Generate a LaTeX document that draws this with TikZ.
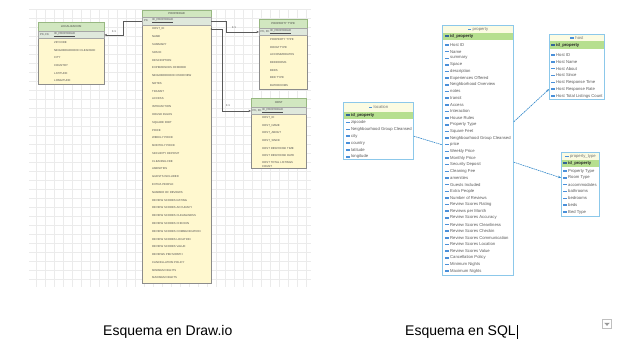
\documentclass[tikz,border=0pt]{standalone}
\usepackage{fontspec}
\setmainfont{Liberation Sans}
\usetikzlibrary{arrows.meta,positioning}

\definecolor{dioYellow}{HTML}{FFF8CF}
\definecolor{dioGreen}{HTML}{D1E7C0}
\definecolor{dioGreenLine}{HTML}{98B882}
\definecolor{dioKeyRow}{HTML}{DFE8DC}
\definecolor{sqlBorder}{HTML}{8CC8EA}
\definecolor{sqlHeadFill}{HTML}{FBFBE2}
\definecolor{sqlKeyFill}{HTML}{B6DF8F}
\definecolor{sqlIcon}{HTML}{4A90D9}
\definecolor{sqlLine}{HTML}{2F86C9}

\newcommand{\diofont}{\fontsize{2.8}{3.2}\selectfont}
\newcommand{\sqlfont}{\fontsize{4.2}{5}\selectfont}

\begin{document}
\begin{tikzpicture}[x=1pt,y=-1pt,
    diogrid/.style={draw=black!8,line width=0.3pt,step=9pt},
    diobox/.style={draw=black!45,fill=dioYellow,anchor=north west,inner sep=0pt},
    diohead/.style={draw=dioGreenLine,fill=dioGreen,anchor=north west,inner sep=0pt,font=\diofont,text=black!75},
    diokey/.style={draw=black!35,fill=dioKeyRow,anchor=north west,inner sep=0pt},
    diotext/.style={anchor=west,inner sep=0pt,font=\diofont,text=black!70},
    diolink/.style={draw=black!65,line width=0.5pt,-{Stealth[length=2.6pt,width=2.2pt]}},
    diolabel/.style={inner sep=0pt,font=\diofont,text=black!75},
    sqlbox/.style={draw=sqlBorder,line width=0.8pt,fill=white,anchor=north west,inner sep=0pt},
    sqlhead/.style={draw=sqlBorder,line width=0.8pt,fill=sqlHeadFill,anchor=north west,inner sep=0pt},
    sqlkey/.style={fill=sqlKeyFill,anchor=north west,inner sep=0pt},
    sqltitle/.style={inner sep=0pt,font=\sqlfont,text=black!55},
    sqltext/.style={anchor=west,inner sep=0pt,font=\sqlfont,text=black!65},
    sqlkeytext/.style={anchor=west,inner sep=0pt,font=\sqlfont\bfseries,text=black!85},
    sqlico/.style={fill=sqlIcon,minimum width=3.6pt,minimum height=1.5pt,inner sep=0pt},
    sqlkeyico/.style={fill=sqlIcon!70!black,minimum width=3.6pt,minimum height=2pt,inner sep=0pt},
    sqllink/.style={draw=sqlLine,line width=0.6pt,dash pattern=on 1.6pt off 0.7pt},
    caption/.style={anchor=base west,inner sep=0pt,font=\fontsize{14}{17}\selectfont}
  ]
  \useasboundingbox (0,0) rectangle (627,347);
  \fill[white] (0,0) rectangle (627,347);

  % draw.io canvas
  \draw[diogrid] (29,9) grid (311,287);

  % LOCALIZACION
  \node[diobox,minimum width=66,minimum height=62] (locbox) at (38,22) {};
  \node[diohead,minimum width=66,minimum height=9] (lochead) at (38,22) {LOCALIZACION};
  \node[diokey,minimum width=66,minimum height=7.5] (lockey) at (38,31) {};
  \node[diotext] (lockeypk) at (40,34.75) {PK, FK};
  \node[diotext] (lockeyid) at (54,34.75) {\underline{ID\_PROPIEDAD}};
  \foreach \f [count=\i] in {ZIPCODE, NEIGHBOURHOOD CLEANSED, CITY, COUNTRY, LATITUDE, LONGITUDE}
    \node[diotext] (locrow\i) at (54,34.75+7.7*\i) {\f};

  % PROPIEDAD
  \node[diobox,minimum width=69,minimum height=273] (mainbox) at (142,10) {};
  \node[diohead,minimum width=69,minimum height=7] (mainhead) at (142,10) {PROPIEDAD};
  \node[diokey,minimum width=69,minimum height=8] (mainkey) at (142,17) {};
  \node[diotext] (mainkeypk) at (144,21) {PK};
  \node[diotext] (mainkeyid) at (152,21) {\underline{ID\_PROPIEDAD}};
  \foreach \f [count=\i] in {HOST\_ID, NAME, SUMMARY, SPACE, DESCRIPTION, EXPERIENCES OFFERED,
      NEIGHBORHOOD OVERVIEW, NOTES, TRANSIT, ACCESS, INTERACTION, HOUSE RULES, SQUARE FEET,
      PRICE, WEEKLY PRICE, MONTHLY PRICE, SECURITY DEPOSIT, CLEANING FEE, AMENITIES,
      GUESTS INCLUDED, EXTRA PEOPLE, NUMBER OF REVIEWS, REVIEW SCORES RATING,
      REVIEW SCORES ACCURACY, REVIEW SCORES CLEANLINESS, REVIEW SCORES CHECKIN,
      REVIEW SCORES COMMUNICATION, REVIEW SCORES LOCATION, REVIEW SCORES VALUE,
      REVIEWS PER MONTH, CANCELLATION POLICY, MINIMUM NIGHTS, MAXIMUM NIGHTS}
    \node[diotext] (mainrow\i) at (152,21.2+7.78*\i) {\f};

  % PROPERTY TYPE
  \node[diobox,minimum width=48,minimum height=70] (ptbox) at (259,19) {};
  \node[diohead,minimum width=48,minimum height=9] (pthead) at (259,19) {PROPERTY TYPE};
  \node[diokey,minimum width=48,minimum height=7.5] (ptkey) at (259,28) {};
  \node[diotext] (ptkeypk) at (260.5,31.75) {PK, FK};
  \node[diotext] (ptkeyid) at (270,31.75) {\underline{ID\_PROPIEDAD}};
  \foreach \f [count=\i] in {PROPERTY TYPE, ROOM TYPE, ACCOMMODATES, BEDROOMS, BEDS, BED TYPE, BATHROOMS}
    \node[diotext] (ptrow\i) at (270,31.75+7.7*\i) {\f};

  % HOST
  \node[diobox,minimum width=55,minimum height=70] (hostbox) at (251,98) {};
  \node[diohead,minimum width=55,minimum height=9] (hosthead) at (251,98) {HOST};
  \node[diokey,minimum width=55,minimum height=7.5] (hostkey) at (251,107) {};
  \node[diotext] (hostkeypk) at (252.5,110.75) {PK, FK};
  \node[diotext] (hostkeyid) at (262,110.75) {\underline{ID\_PROPIEDAD}};
  \foreach \f [count=\i] in {HOST\_ID, HOST\_NAME, HOST\_ABOUT, HOST\_SINCE, HOST RESPONSE TIME, HOST RESPONSE RATE}
    \node[diotext] (hostrow\i) at (262,110.75+7.5*\i) {\f};
  \node[diotext,align=left] (hostrow7) at (262,164.5) {HOST TOTAL LISTINGS\\COUNT};

  % relaciones 1:1
  \draw[diolink] (mainkey.west) -- ++(-19,0) |- (lockey.east);
  \node[diolabel] (rel1) at (114,31.5) {1:1};
  \draw[diolink] (mainkey.east) -- ++(15,0) |- (ptkey.west);
  \node[diolabel] (rel2) at (234,28) {1:1};
  \fill[black!65] (mainbox.east |- mainrow1) circle (0.8);
  \draw[diolink] (mainbox.east |- mainrow1) -- ++(11,0) |- (hostkey.west);
  \node[diolabel] (rel3) at (228,106) {1:1};

  % SQL: location
  \node[sqlbox,minimum width=70,minimum height=57] (sqlloc) at (343,102) {};
  \node[sqlhead,minimum width=70,minimum height=10] (sqllochead) at (343,102) {};
  \node[sqltitle] (sqlloctitle) at ([xshift=2.5pt]sqllochead.center) {location};
  \node[sqlico,left=1pt of sqlloctitle] (sqllocico) {};
  \node[sqlkey,minimum width=69.2,minimum height=7] (sqllockey) at (343.4,112) {};
  \node[sqlkeytext] (sqllocid) at (351,115.5) {id\_property};
  \node[sqlkeyico,left=1pt of sqllocid] (sqllocidico) {};
  \foreach \f [count=\i] in {zipcode, Neighbourhood Group Cleansed, city, country, latitude, longitude} {
    \node[sqltext] (sqllocrow\i) at (351,115.5+6.9*\i) {\f};
    \node[sqlico,left=1pt of sqllocrow\i] (sqllocico\i) {};
  }

  % SQL: property
  \node[sqlbox,minimum width=71,minimum height=250] (sqlprop) at (442,25) {};
  \node[sqlhead,minimum width=71,minimum height=8] (sqlprophead) at (442,25) {};
  \node[sqltitle] (sqlproptitle) at ([xshift=2.5pt]sqlprophead.center) {property};
  \node[sqlico,left=1pt of sqlproptitle] (sqlpropico) {};
  \node[sqlkey,minimum width=70.2,minimum height=7] (sqlpropkey) at (442.4,33) {};
  \node[sqlkeytext] (sqlpropid) at (450,36.5) {id\_property};
  \node[sqlkeyico,left=1pt of sqlpropid] (sqlpropidico) {};
  \foreach \f [count=\i] in {Host ID, Name, summary, Space, description, Experiences Offered,
      Neighborhood Overview, notes, transit, Access, Interaction, House Rules, Property Type,
      Square Feet, Neighbourhood Group Cleansed, price, Weekly Price, Monthly Price,
      Security Deposit, Cleaning Fee, amenities, Guests Included, Extra People,
      Number of Reviews, Review Scores Rating, Reviews per Month, Review Scores Accuracy,
      Review Scores Cleanliness, Review Scores Checkin, Review Scores Communication,
      Review Scores Location, Review Scores Value, Cancellation Policy, Minimum Nights,
      Maximum Nights} {
    \node[sqltext] (sqlproprow\i) at (450,38.35+6.65*\i) {\f};
    \node[sqlico,left=1pt of sqlproprow\i] (sqlpropico\i) {};
  }

  % SQL: host
  \node[sqlbox,minimum width=55,minimum height=65] (sqlhost) at (549,34) {};
  \node[sqlhead,minimum width=55,minimum height=7] (sqlhosthead) at (549,34) {};
  \node[sqltitle] (sqlhosttitle) at ([xshift=2.5pt]sqlhosthead.center) {host};
  \node[sqlico,left=1pt of sqlhosttitle] (sqlhostico) {};
  \node[sqlkey,minimum width=54.2,minimum height=8] (sqlhostkey) at (549.4,41) {};
  \node[sqlkeytext] (sqlhostid) at (556,45) {id\_property};
  \node[sqlkeyico,left=1pt of sqlhostid] (sqlhostidico) {};
  \foreach \f [count=\i] in {Host ID, Host Name, Host About, Host Since, Host Response Time,
      Host Response Rate, Host Total Listings Count} {
    \node[sqltext] (sqlhostrow\i) at (556,48.17+6.83*\i) {\f};
    \node[sqlico,left=1pt of sqlhostrow\i] (sqlhostico\i) {};
  }

  % SQL: property_type
  \node[sqlbox,minimum width=38,minimum height=64] (sqlpt) at (561,152) {};
  \node[sqlhead,minimum width=38,minimum height=8] (sqlpthead) at (561,152) {};
  \node[sqltitle] (sqlpttitle) at ([xshift=2.5pt]sqlpthead.center) {property\_type};
  \node[sqlico,left=1pt of sqlpttitle] (sqlptico) {};
  \node[sqlkey,minimum width=37.2,minimum height=7] (sqlptkey) at (561.4,160) {};
  \node[sqlkeytext] (sqlptid) at (568,163.5) {id\_property};
  \node[sqlkeyico,left=1pt of sqlptid] (sqlptidico) {};
  \foreach \f [count=\i] in {Property Type, Room Type, accommodates, bathrooms, bedrooms, beds, Bed Type} {
    \node[sqltext] (sqlptrow\i) at (568,164.17+6.83*\i) {\f};
    \node[sqlico,left=1pt of sqlptrow\i] (sqlptico\i) {};
  }

  % SQL: relaciones
  \draw[sqllink] (sqlloc.east |- sqllocrow3) -- (sqlprop.west |- sqlproprow16);
  \draw[sqllink,-{Stealth[length=3pt,width=2.4pt]}] ([yshift=3pt]sqlprop.east |- sqlproprow13) -- (sqlhost.west |- sqlhostrow6);
  \draw[sqllink,-{Stealth[length=3pt,width=2.4pt]}] ([yshift=2.5pt]sqlprop.east |- sqlproprow19) -- (sqlpt.west |- sqlptrow2);

  % captions
  \node[caption] (capdio) at (103,336) {Esquema en Draw.io};
  \node[caption] (capsql) at (405,336) {Esquema en SQL};
  \draw[line width=0.8pt] ([xshift=1.2pt,yshift=-3pt]capsql.base east) -- ++(0,-13.5);

  % menu button
  \node[draw=black!25,fill=white,minimum size=9,inner sep=0pt] (menubtn) at (607,324) {};
  \fill[black!40] ([shift={(-2.8,-1.2)}]menubtn.center) -- ++(5.6,0) -- ++(-2.8,3) -- cycle;
\end{tikzpicture}
\end{document}
